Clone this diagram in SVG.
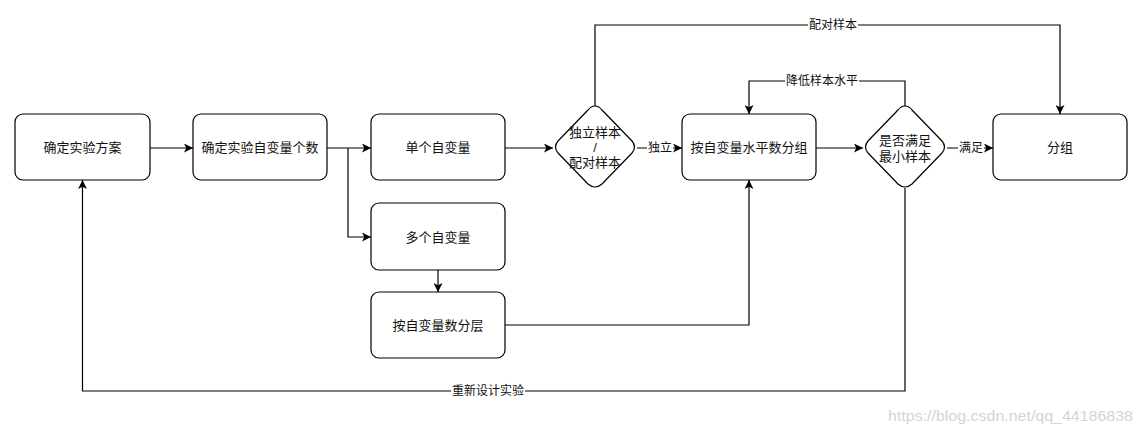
<svg xmlns="http://www.w3.org/2000/svg" width="1140" height="433" viewBox="0 0 1140 433">
<style>
.n{fill:#fff;stroke:#000;stroke-width:1.2}
.t{font-family:"Liberation Sans","Noto Sans CJK SC",sans-serif;font-size:13px;fill:#111;text-anchor:middle;dominant-baseline:central}
.l{font-family:"Liberation Sans","Noto Sans CJK SC",sans-serif;font-size:12px;fill:#111;text-anchor:middle;dominant-baseline:central}
.e{fill:none;stroke:#000;stroke-width:1.2}
.lb{fill:#fff}
</style>
<defs>
<marker id="a" viewBox="0 0 10 10" refX="10" refY="5" markerWidth="9" markerHeight="9" markerUnits="userSpaceOnUse" orient="auto">
<path d="M0,0 L10,5 L0,10 L2.5,5 Z" fill="#000"/>
</marker>
</defs>
<rect width="1140" height="433" fill="#fff"/>
<g id="connectors">
<path class="e" d="M150,148 H193" marker-end="url(#a)"/>
<path class="e" d="M327,148 H371" marker-end="url(#a)"/>
<path class="e" d="M348,148 V237 H371" marker-end="url(#a)"/>
<path class="e" d="M505,148 H553" marker-end="url(#a)"/>
<path class="e" d="M637,148 H682" marker-end="url(#a)"/>
<path class="e" d="M816,148 H863" marker-end="url(#a)"/>
<path class="e" d="M947,148 H993" marker-end="url(#a)"/>
<path class="e" d="M595,106 V25 H1060 V114" marker-end="url(#a)"/>
<path class="e" d="M905,106 V81 H749 V114" marker-end="url(#a)"/>
<path class="e" d="M905,188 V391 H82.5 V180" marker-end="url(#a)"/>
<path class="e" d="M438,270 V292" marker-end="url(#a)"/>
<path class="e" d="M505,325 H749 V180" marker-end="url(#a)"/>
<rect class="lb" x="808" y="18" width="50" height="14"/>
<text class="l" x="833" y="25">配对样本</text>
<rect class="lb" x="785" y="74" width="74" height="14"/>
<text class="l" x="822" y="81">降低样本水平</text>
<rect class="lb" x="451" y="384" width="74" height="14"/>
<text class="l" x="488" y="391">重新设计实验</text>
<rect class="lb" x="647" y="141" width="26" height="14"/>
<text class="l" x="660" y="148">独立</text>
<rect class="lb" x="958" y="141" width="26" height="14"/>
<text class="l" x="971" y="148">满足</text>
</g>
<g id="n1"><rect class="n" x="15" y="114" width="135" height="66" rx="8"/><text class="t" x="82.5" y="147">确定实验方案</text></g>
<g id="n2"><rect class="n" x="193" y="114" width="134" height="66" rx="8"/><text class="t" x="260" y="147">确定实验自变量个数</text></g>
<g id="n3"><rect class="n" x="371" y="114" width="134" height="66" rx="8"/><text class="t" x="438" y="147">单个自变量</text></g>
<g id="n4"><rect class="n" x="371" y="203" width="134" height="67" rx="8"/><text class="t" x="438" y="237">多个自变量</text></g>
<g id="n5"><rect class="n" x="371" y="292" width="134" height="66" rx="8"/><text class="t" x="438" y="325">按自变量数分层</text></g>
<g id="d1"><path class="n" d="M595,106 Q599,106 602,110 L632,141 Q637,147 632,153 L602,184 Q595,190 588,184 L558,153 Q553,147 558,141 L588,110 Q591,106 595,106 Z"/>
<text class="t" x="595" y="132">独立样本</text><text class="t" x="595" y="147">/</text><text class="t" x="595" y="162">配对样本</text></g>
<g id="n6"><rect class="n" x="682" y="114" width="134" height="66" rx="8"/><text class="t" x="749" y="147">按自变量水平数分组</text></g>
<g id="d2"><path class="n" d="M905,106 Q909,106 912,110 L942,141 Q947,147 942,153 L912,184 Q905,190 898,184 L868,153 Q863,147 868,141 L898,110 Q901,106 905,106 Z"/>
<text class="t" x="905" y="140">是否满足</text><text class="t" x="905" y="156">最小样本</text></g>
<g id="n7"><rect class="n" x="993" y="114" width="134" height="66" rx="8"/><text class="t" x="1060" y="147">分组</text></g>
<text x="1133" y="416" font-family="'Liberation Sans Narrow','Liberation Sans',sans-serif" font-size="14" fill="#d4d4d4" text-anchor="end" dominant-baseline="central" textLength="245" lengthAdjust="spacingAndGlyphs">https://blog.csdn.net/qq_44186838</text>
</svg>
